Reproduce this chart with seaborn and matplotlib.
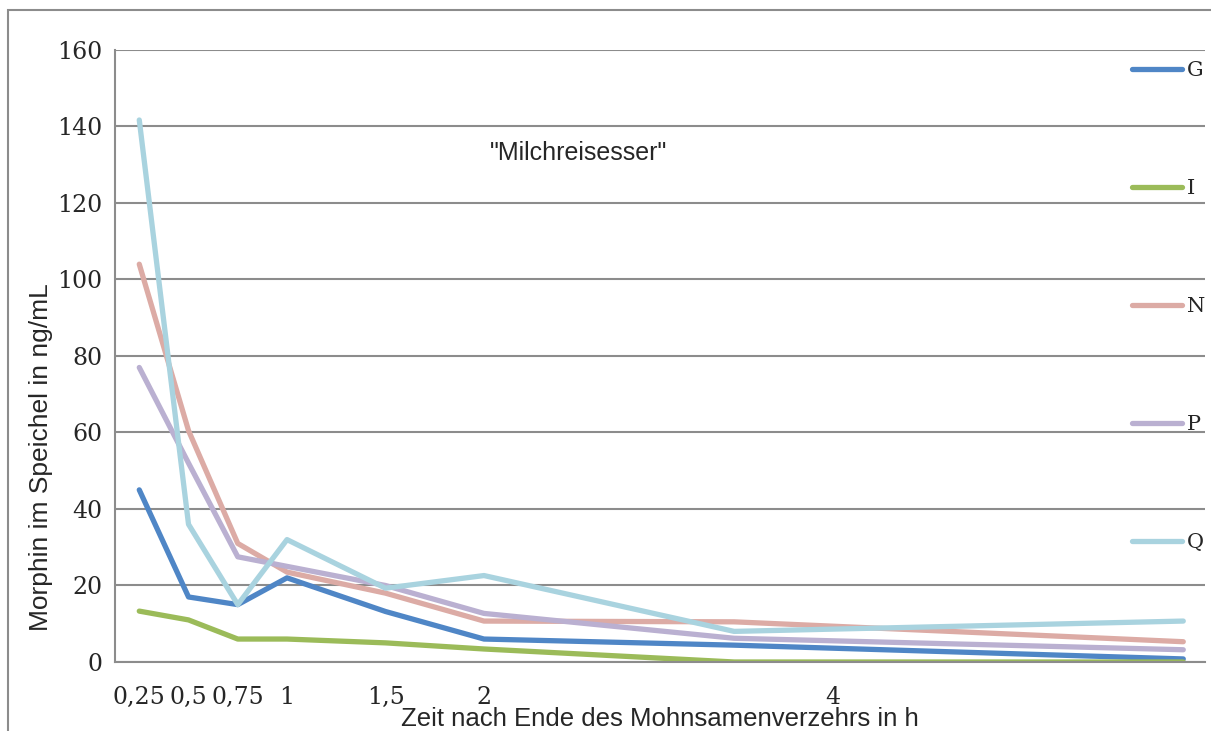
import pandas as pd
import matplotlib.pyplot as plt
import seaborn as sns
from matplotlib.patches import Rectangle

# time points (h) and morphine values per person
zeit = [0.25, 0.5, 0.75, 1, 1.5, 2, 3.27, 5.55]
G = [45, 17, 15, 22, 13.2, 6, 4.4, 0.8]
I = [13.3, 11, 6, 6, 5, 3.4, 0, 0]
N = [104, 60.5, 31, 23.5, 18, 10.7, 10.5, 5.3]
P = [77, 52, 27.5, 25, 20, 12.7, 6.2, 3.2]
Q = [141.7, 36, 15, 32, 19.3, 22.6, 8, 10.7]

personen = ['G', 'I', 'N', 'P', 'Q']
farben = ['#4f86c6', '#9bbb59', '#dcaba5', '#bab0d1', '#a9d3df']

tick_pos = [0.25, 0.5, 0.75, 1, 1.5, 2, 3.77]
tick_labels = ['0,25', '0,5', '0,75', '1', '1,5', '2', '4']

# long format for seaborn
rows = []
for name, werte in zip(personen, [G, I, N, P, Q]):
    for t, v in zip(zeit, werte):
        rows.append({'Zeit': t, 'Morphin': v, 'Person': name})
df = pd.DataFrame(rows)

sns.set_theme(style="white")
fig = plt.figure(figsize=(12.11, 7.31), dpi=100)
ax = fig.add_axes([0.095, 0.0944, 0.9, 0.8372])

sns.lineplot(data=df, x='Zeit', y='Morphin', hue='Person', palette=farben,
             linewidth=3.8, ax=ax, sort=False, solid_capstyle='round')

ax.set_xlim(0.127, 5.66)
ax.set_ylim(0, 160)
ax.set_yticks(range(0, 161, 20))
ax.set_yticklabels([str(v) for v in range(0, 161, 20)],
                   family='DejaVu Serif', fontsize=17)
ax.set_xticks(tick_pos)
ax.set_xticklabels(tick_labels, family='DejaVu Serif', fontsize=17)
ax.tick_params(axis='x', length=0, pad=17)
ax.tick_params(axis='y', length=0, pad=9)

ax.yaxis.grid(True, color='#8c8c8c', linewidth=1.5)
ax.set_axisbelow(True)
for s in ['top', 'right']:
    ax.spines[s].set_visible(False)
ax.spines['left'].set_color('#8c8c8c')
ax.spines['left'].set_linewidth(1.5)
ax.spines['bottom'].set_color('#8c8c8c')
ax.spines['bottom'].set_linewidth(1.5)

ax.set_xlabel('Zeit nach Ende des Mohnsamenverzehrs in h',
              family='Liberation Sans', fontsize=18.5, labelpad=-1)
ax.set_ylabel('Morphin im Speichel in ng/mL',
              family='Liberation Sans', fontsize=19)
ax.yaxis.set_label_coords(-0.057, 0.335)

ax.text(0.425, 0.832, '"Milchreisesser"', transform=ax.transAxes,
        ha='center', va='center', family='Liberation Sans', fontsize=18)

leg = ax.legend(loc='upper right', bbox_to_anchor=(1.008, 0.995), frameon=False,
                labelspacing=4.75, handlelength=2.4, handletextpad=0.25,
                borderaxespad=0, prop={'family': 'DejaVu Serif', 'size': 15})
for line in leg.get_lines():
    line.set_linewidth(3.8)

# outer chart frame
fig.patches.append(Rectangle((8 / 1211, -0.1), 1.2, 1 - 10 / 731 + 0.1,
                             transform=fig.transFigure, fill=False,
                             edgecolor='#8c8c8c', linewidth=1.5))

plt.savefig('out.png', dpi=100)
